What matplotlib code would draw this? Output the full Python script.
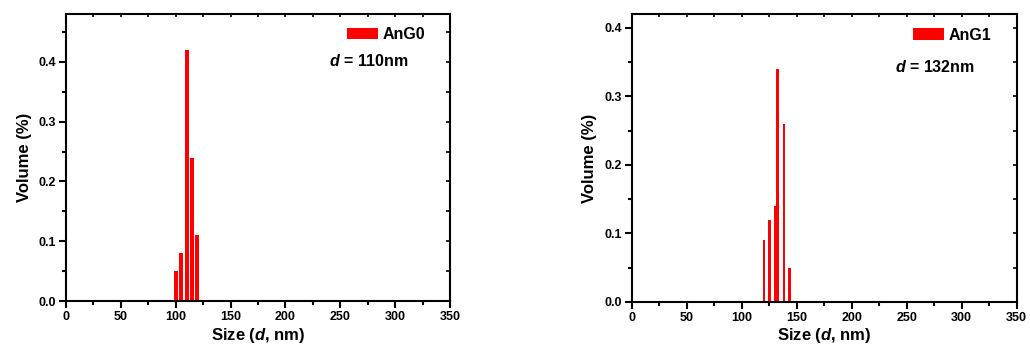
import matplotlib
matplotlib.use("Agg")
import matplotlib.pyplot as plt
from matplotlib.ticker import MultipleLocator

plt.rcParams['font.family'] = ['Liberation Sans', 'DejaVu Sans']
plt.rcParams['font.weight'] = 'bold'
plt.rcParams['mathtext.fontset'] = 'custom'
plt.rcParams['mathtext.it'] = 'Liberation Sans:bold:italic'
plt.rcParams['mathtext.rm'] = 'Liberation Sans:bold'

# Data
sizes_g0 = [100, 105, 110, 114.5, 119]
volume_g0 = [0.05, 0.08, 0.42, 0.24, 0.11]
sizes_g1 = [120.3, 125.3, 130.6, 132.4, 138.3, 143.5]
volume_g1 = [0.09, 0.12, 0.14, 0.34, 0.26, 0.05]
labels = ["AnG0", "AnG1"]
diam_text = ["$d$ = 110nm", "$d$ = 132nm"]

fig = plt.figure(figsize=(10.30, 3.55), dpi=100)
ax1 = fig.add_axes([0.0641, 0.152, 0.3728, 0.8085])
ax2 = fig.add_axes([0.6133, 0.1493, 0.3738, 0.811])

def style(ax, ymax):
    ax.set_xlim(0, 350)
    ax.set_ylim(0, ymax)
    ax.xaxis.set_major_locator(MultipleLocator(50))
    ax.xaxis.set_minor_locator(MultipleLocator(25))
    ax.yaxis.set_major_locator(MultipleLocator(0.1))
    ax.yaxis.set_minor_locator(MultipleLocator(0.05))
    ax.yaxis.set_major_formatter(matplotlib.ticker.FormatStrFormatter('%.1f'))
    for s in ax.spines.values():
        s.set_linewidth(1.5)
    ax.tick_params(which='major', direction='out', length=5, width=1.5,
                   labelsize=9, pad=2)
    ax.tick_params(which='minor', direction='out', length=3, width=1.5)
    ax.tick_params(top=False, right=False)
    sx = ax.secondary_xaxis('top')
    sx.xaxis.set_major_locator(MultipleLocator(50))
    sx.xaxis.set_minor_locator(MultipleLocator(25))
    sx.tick_params(which='both', direction='in', length=2.5, width=1.2, labeltop=False)
    sx.spines['top'].set_visible(False)
    sy = ax.secondary_yaxis('right')
    sy.yaxis.set_major_locator(MultipleLocator(0.1))
    sy.yaxis.set_minor_locator(MultipleLocator(0.05))
    sy.tick_params(which='both', direction='in', length=3, width=1.2, labelright=False)
    sy.spines['right'].set_visible(False)
    ax.set_xlabel("Size ($d$, nm)", fontsize=12, fontweight='bold', labelpad=2)
    ax.set_ylabel("Volume (%)", fontsize=12, fontweight='bold', labelpad=5)

ax1.bar(sizes_g0, volume_g0, width=3.6, color='#ff0000', label=labels[0])
ax2.bar(sizes_g1, volume_g1, width=2.3, color='#ff0000', label=labels[1])
style(ax1, 0.48)
style(ax2, 0.42)

for ax, txt, lx, ly, tx, ty in [(ax1, diam_text[0], 0.732, 0.9286, 0.685, 0.837),
                                (ax2, diam_text[1], 0.7314, 0.927, 0.684, 0.817)]:
    leg = ax.legend(loc='center left', bbox_to_anchor=(lx, ly), frameon=False,
                    fontsize=11.5, handlelength=1.95, handleheight=0.75,
                    handletextpad=0.25, borderpad=0, borderaxespad=0)
    for t in leg.get_texts():
        t.set_fontweight('bold')
    ax.text(tx, ty, txt, transform=ax.transAxes, fontsize=11.5,
            fontweight='bold', va='center', ha='left')

fig.savefig("out.png", dpi=100)
